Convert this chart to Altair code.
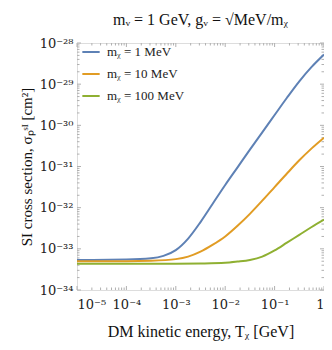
import altair as alt
import pandas as pd

# ---- data (log10 values) ----
series_names = ["mᵪ = 1 MeV", "mᵪ = 10 MeV", "mᵪ = 100 MeV"]
series_colors = ["#5e81b5", "#e19c24", "#8fb032"]

blue_logT = [-5.0, -4.0, -3.5, -3.25, -3.0, -2.75, -2.5, -2.25, -2.0, -1.75, -1.5, -1.25, -1.0, -0.75, -0.5, -0.25, 0.0]
blue_logS = [-33.27, -33.26, -33.23, -33.17, -33.03, -32.75, -32.35, -31.90, -31.45, -31.02, -30.59, -30.17, -29.75, -29.33, -28.93, -28.58, -28.28]

orange_logT = [-5.0, -4.0, -3.5, -3.0, -2.75, -2.5, -2.25, -2.0, -1.75, -1.5, -1.25, -1.0, -0.75, -0.5, -0.25, 0.0]
orange_logS = [-33.30, -33.30, -33.29, -33.25, -33.19, -33.07, -32.90, -32.70, -32.44, -32.15, -31.83, -31.50, -31.17, -30.85, -30.56, -30.30]

green_logT = [-5.0, -3.0, -2.5, -2.0, -1.75, -1.5, -1.25, -1.0, -0.75, -0.5, -0.25, 0.0]
green_logS = [-33.36, -33.36, -33.355, -33.34, -33.31, -33.27, -33.19, -33.04, -32.85, -32.66, -32.47, -32.29]

x_ticks = [1e-5, 1e-4, 1e-3, 1e-2, 1e-1, 1.0]
x_tick_labels = ["10⁻⁵", "10⁻⁴", "10⁻³", "10⁻²", "10⁻¹", "1"]
y_ticks = [1e-34, 1e-33, 1e-32, 1e-31, 1e-30, 1e-29, 1e-28]
y_tick_labels = ["10⁻³⁴", "10⁻³³", "10⁻³²", "10⁻³¹", "10⁻³⁰", "10⁻²⁹", "10⁻²⁸"]

rows = []
for name, lt, ls in zip(series_names, [blue_logT, orange_logT, green_logT], [blue_logS, orange_logS, green_logS]):
    for a, b in zip(lt, ls):
        rows.append({"series": name, "T": 10 ** a, "sigma": 10 ** b})
df = pd.DataFrame(rows)

def label_expr(vals, labels):
    expr = "''"
    for v, l in reversed(list(zip(vals, labels))):
        expr = f"abs(log(datum.value) - log({v!r})) < 0.1 ? '{l}' : ({expr})"
    return expr

W, H = 247, 247
FONT = "Liberation Serif"
LFONT = "DejaVu Serif"

xscale = alt.Scale(type="log", domain=[1e-5, 1], nice=False)
yscale = alt.Scale(type="log", domain=[1e-34, 1e-28], nice=False)

lines = alt.Chart(df).mark_line(strokeWidth=2, interpolate="monotone", clip=True).encode(
    x=alt.X("T:Q", scale=xscale,
            axis=alt.Axis(values=x_ticks, labelExpr=label_expr(x_ticks, x_tick_labels),
                          ticks=False, domain=False, grid=False, labelPadding=8,
                          labelFont=LFONT, labelFontSize=13, labelColor="#222",
                          title="DM kinetic energy,  Tᵪ [GeV]", titleFont=FONT,
                          titleFontSize=16, titleFontWeight="normal", titleColor="#111",
                          titlePadding=12)),
    y=alt.Y("sigma:Q", scale=yscale,
            axis=alt.Axis(values=y_ticks, labelExpr=label_expr(y_ticks, y_tick_labels),
                          ticks=False, domain=False, grid=False, labelPadding=4,
                          labelFont=LFONT, labelFontSize=13, labelColor="#222",
                          title="SI cross section,  σₚˢᴵ [cm²]", titleFont=FONT,
                          titleFontSize=15, titleFontWeight="normal", titleColor="#111",
                          titlePadding=5)),
    color=alt.Color("series:N",
                    scale=alt.Scale(domain=series_names, range=series_colors),
                    legend=alt.Legend(title=None, orient="none", legendX=4, legendY=-1,
                                      symbolType="stroke", symbolStrokeWidth=2,
                                      symbolSize=300, labelFont=FONT, labelFontSize=13,
                                      labelColor="#222", rowPadding=5, labelOffset=6)),
)

# inward minor/major frame ticks (Mathematica style)
majx = [10.0 ** k for k in range(-5, 1)]
minx = [j * 10.0 ** k for k in range(-5, 0) for j in range(2, 10)]
majy = [10.0 ** k for k in range(-34, -27)]
miny = [j * 10.0 ** k for k in range(-34, -28) for j in range(2, 10)]

TICK = "#b0b0b0"

def xticks(vals, length):
    d = pd.DataFrame({"t": vals})
    base = alt.Chart(d).mark_rule(color=TICK, strokeWidth=1)
    bottom = base.encode(x=alt.X("t:Q", scale=xscale), y=alt.value(H), y2=alt.value(H - length))
    top = base.encode(x=alt.X("t:Q", scale=xscale), y=alt.value(0), y2=alt.value(length))
    return [bottom, top]

def yticks(vals, length):
    d = pd.DataFrame({"t": vals})
    base = alt.Chart(d).mark_rule(color=TICK, strokeWidth=1)
    left = base.encode(y=alt.Y("t:Q", scale=yscale), x=alt.value(0), x2=alt.value(length))
    right = base.encode(y=alt.Y("t:Q", scale=yscale), x=alt.value(W), x2=alt.value(W - length))
    return [left, right]

tick_layers = xticks(majx, 4) + xticks(minx, 2.5) + yticks(majy, 4) + yticks(miny, 2.5)

chart = alt.layer(*tick_layers, lines).properties(
    width=W, height=H,
    title=alt.Title("mᵥ = 1 GeV,  gᵥ = √MeV/mᵪ", font=FONT, fontSize=16,
                    fontWeight="normal", color="#111", anchor="middle", offset=9),
    autosize=alt.AutoSizeParams(type="none"),
    padding={"left": 69, "top": 35, "right": 0, "bottom": 52},
).configure_view(stroke="#a0a0a0", strokeWidth=1).configure(background="white")

chart.save("out.html", embed_options={"renderer": "svg", "actions": False})
